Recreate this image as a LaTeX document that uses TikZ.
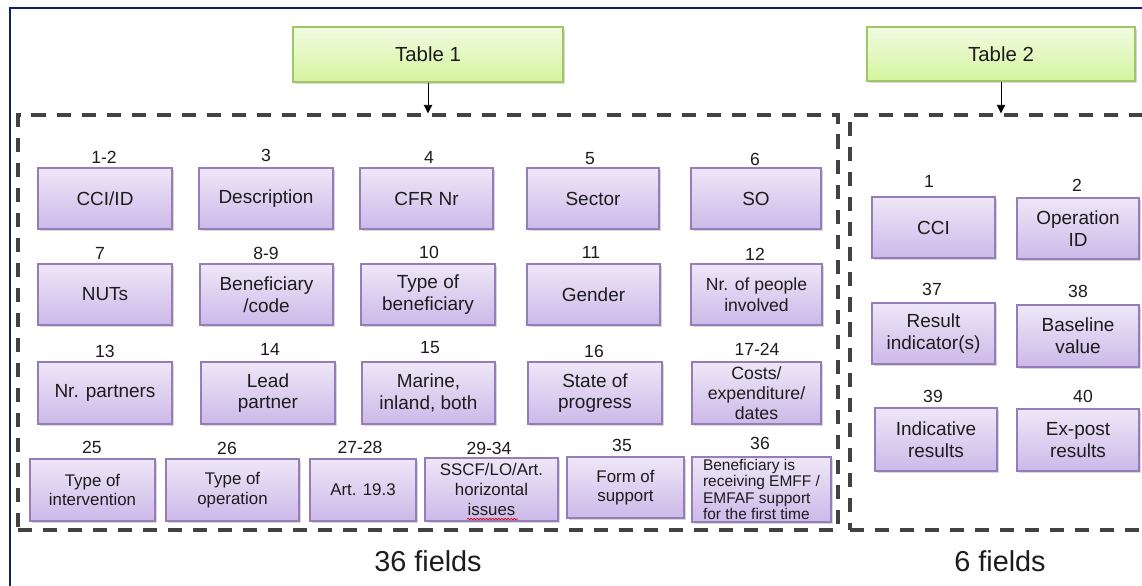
\documentclass[tikz,border=0pt]{standalone}
\usepackage{fontspec}
\setmainfont{Liberation Sans}
\usetikzlibrary{shadows,arrows.meta,decorations.pathmorphing}
\definecolor{navyline}{RGB}{12,36,97}
\definecolor{dashgray}{RGB}{66,66,66}
\definecolor{ptop}{RGB}{238,231,247}
\definecolor{pbot}{RGB}{204,185,233}
\definecolor{pborder}{RGB}{150,125,185}
\definecolor{gtop}{RGB}{241,251,226}
\definecolor{gbot}{RGB}{213,244,158}
\definecolor{gborder}{RGB}{160,198,105}
\definecolor{txt}{RGB}{28,28,28}
\newcommand\fld[7]{\node[fldbox,#1,minimum width={(#5-#3)*0.025cm},minimum height={(#6-#4)*0.025cm}] (#2) at ({(#3+#5)/2},{(#4+#6)/2}) {#7};}
\tikzset{
  fldbox/.style={draw=pborder, line width=0.9pt, top color=ptop, bottom color=pbot,
    inner sep=1pt, align=center, text=txt, font=\fontsize{13.5}{15.5}\selectfont,
    drop shadow={shadow xshift=1.2pt, shadow yshift=-1.2pt, opacity=0.3}},
  fsmall/.style={font=\fontsize{12}{14}\selectfont},
  fcosts/.style={font=\fontsize{12.6}{14.2}\selectfont},
  fpeople/.style={font=\fontsize{12.5}{15}\selectfont},
  ftiny/.style={font=\fontsize{11}{11.8}\selectfont, align=left},
  numlbl/.style={text=txt, font=\fontsize{12.5}{15}\selectfont, inner sep=0pt},
  hdr/.style={draw=gborder, line width=0.9pt, top color=gtop, bottom color=gbot,
    text=txt, font=\fontsize{14.5}{17}\selectfont,
    drop shadow={shadow xshift=1.2pt, shadow yshift=-1.2pt, opacity=0.3}},
  dashbox/.style={draw=dashgray, line width=2.4pt, dash pattern=on 10pt off 7.8pt, inner sep=0pt},
  fbig/.style={text=txt, font=\fontsize{20.5}{24}\selectfont, inner sep=0pt},
  arr/.style={-{Triangle[width=6pt,length=6pt]}, line width=0.6pt, black}
}
\begin{document}
\begin{tikzpicture}[x=0.025cm,y=-0.025cm]
\useasboundingbox (0,0) rectangle (1142,585);
\fill[white] (0,0) rectangle (1142,585);
% outer frame
\draw[navyline, line width=1.6pt] (10,600) -- (10,8) -- (1160,8);
% dashed containers
\node[dashbox, minimum width={820*0.025cm}, minimum height={415*0.025cm}] (box1) at (428,322.5) {};
\node[dashbox, minimum width={302*0.025cm}, minimum height={415*0.025cm}] (box2) at (1001,322.5) {};
% headers
\node[hdr, minimum width={270*0.025cm}, minimum height={55*0.025cm}] (t1) at (428,54.5) {Table 1};
\node[hdr, minimum width={268*0.025cm}, minimum height={54*0.025cm}] (t2) at (1001,54) {Table 2};
\draw[arr] (t1.south) -- (box1.north);
\draw[arr] (t2.south) -- (box2.north);
% row 1
\fld{}{cci}{38}{168}{172}{229}{CCI/ID}
\fld{}{desc}{199}{168}{333}{229}{Description}
\fld{}{cfr}{360}{168}{493}{229}{CFR Nr}
\fld{}{sector}{527}{168}{659}{229}{Sector}
\fld{}{so}{691}{168}{821}{229}{SO}
% row 2
\fld{}{nuts}{38}{264}{172}{325}{NUTs}
\fld{}{benef}{200}{264}{333}{325}{Beneficiary\\/code}
\fld{}{typeben}{361}{264}{495}{325}{Type of\\beneficiary}
\fld{}{gender}{527}{264}{660}{325}{Gender}
\fld{fpeople}{people}{691}{264}{822}{325}{Nr. of people\\involved}
% row 3
\fld{}{partners}{38}{362}{172}{424}{Nr. partners}
\fld{}{lead}{201}{362}{335}{424}{Lead\\partner}
\fld{}{marine}{362}{362}{495}{424}{Marine,\\inland, both}
\fld{}{state}{528}{362}{662}{424}{State of\\progress}
\fld{fcosts}{costs}{692}{362}{821}{424}{Costs/\\expenditure/\\dates}
% row 4
\fld{fsmall}{interv}{30}{459}{155}{521}{Type of\\intervention}
\fld{fsmall}{oper}{166}{459}{299}{521}{Type of\\operation}
\fld{fsmall}{art}{310}{459}{416}{521}{Art. 19.3}
\fld{fsmall}{sscf}{425}{458}{558}{521}{SSCF/LO/Art.\\horizontal\\issues}
\fld{fsmall}{form}{567}{457}{684}{518}{Form of\\support}
\fld{ftiny}{first}{692}{457}{831}{522}{Beneficiary is\\receiving EMFF /\\EMFAF support\\for the first time}
\draw[red!85!black, line width=0.5pt, decorate, decoration={snake, amplitude=0.5pt, segment length=2.2pt}] (467,519) -- (518,519);
% table 2 fields
\fld{}{cci2}{872}{197}{995}{258}{CCI}
\fld{}{opid}{1017}{198}{1139}{259}{Operation\\ID}
\fld{}{resind}{872}{303}{995}{364}{Result\\indicator(s)}
\fld{}{baseline}{1017}{305}{1139}{367}{Baseline\\value}
\fld{}{indic}{875}{408}{997}{471}{Indicative\\results}
\fld{}{expost}{1017}{409}{1139}{471}{Ex-post\\results}
% number labels
\node[numlbl] (n1) at (104,157) {1-2};
\node[numlbl] (n3) at (266,155) {3};
\node[numlbl] (n4) at (429,157) {4};
\node[numlbl] (n5) at (590,159) {5};
\node[numlbl] (n6) at (755,159) {6};
\node[numlbl] (n7) at (100,253) {7};
\node[numlbl] (n8) at (266,253) {8-9};
\node[numlbl] (n10) at (429,252) {10};
\node[numlbl] (n11) at (591,252) {11};
\node[numlbl] (n12) at (755,254) {12};
\node[numlbl] (n13) at (105,351) {13};
\node[numlbl] (n14) at (270,349) {14};
\node[numlbl] (n15) at (430,348) {15};
\node[numlbl] (n16) at (594,351) {16};
\node[numlbl] (n17) at (757,349) {17-24};
\node[numlbl] (n25) at (92,447) {25};
\node[numlbl] (n26) at (227,448) {26};
\node[numlbl] (n27) at (360,447) {27-28};
\node[numlbl] (n29) at (489,448) {29-34};
\node[numlbl] (n35) at (622,445) {35};
\node[numlbl] (n36) at (760,443) {36};
\node[numlbl] (m1) at (929,181) {1};
\node[numlbl] (m2) at (1077,185) {2};
\node[numlbl] (m37) at (932,289) {37};
\node[numlbl] (m38) at (1078,291) {38};
\node[numlbl] (m39) at (933,396) {39};
\node[numlbl] (m40) at (1083,396) {40};
% totals
\node[fbig] (tot1) at (428,561) {36 fields};
\node[fbig] (tot2) at (1000,561) {6 fields};
\end{tikzpicture}
\end{document}
